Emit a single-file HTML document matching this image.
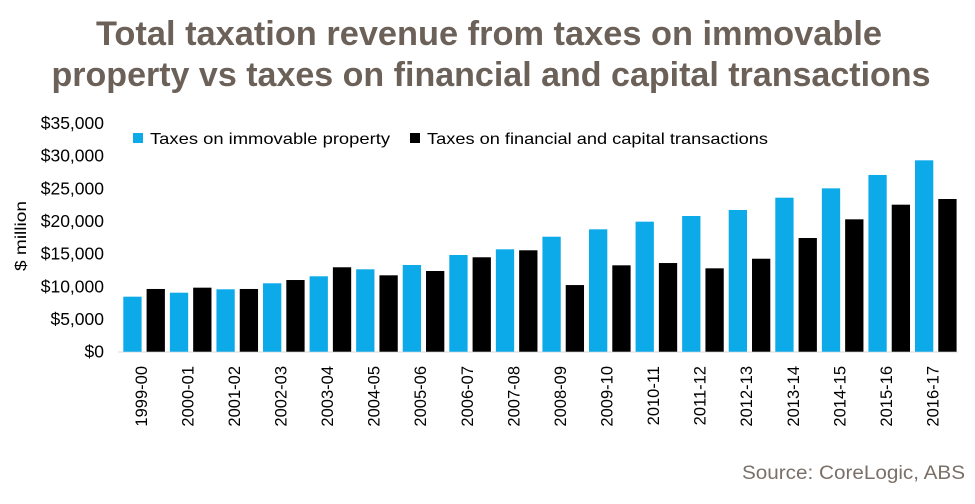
<!DOCTYPE html>
<html><head><meta charset="utf-8"><style>
body{margin:0;background:#fff;width:975px;height:499px;overflow:hidden;font-family:"Liberation Sans",sans-serif}
svg text{font-family:"Liberation Sans",sans-serif}
</style></head><body>
<svg id="chart" width="975" height="499" xmlns="http://www.w3.org/2000/svg">
<text x="489" y="45" text-anchor="middle" font-size="34" font-weight="bold" fill="#6b6159" textLength="786" lengthAdjust="spacingAndGlyphs">Total taxation revenue from taxes on immovable</text>
<text x="491" y="86" text-anchor="middle" font-size="34" font-weight="bold" fill="#6b6159" textLength="879" lengthAdjust="spacingAndGlyphs">property vs taxes on financial and capital transactions</text>
<text transform="translate(26,236) rotate(-90)" text-anchor="middle" font-size="16" fill="#000" textLength="70" lengthAdjust="spacingAndGlyphs">$ million</text>
<rect x="133" y="133" width="10" height="10" fill="#0daaea"/>
<text x="150" y="144" font-size="16" fill="#000" textLength="240" lengthAdjust="spacingAndGlyphs">Taxes on immovable property</text>
<rect x="410" y="133" width="10" height="10" fill="#000"/>
<text x="427" y="144" font-size="16" fill="#000" textLength="341" lengthAdjust="spacingAndGlyphs">Taxes on financial and capital transactions</text>
<line x1="118" y1="352" x2="958" y2="352" stroke="#d9d9d9" stroke-width="1"/>
<g id="yticks"></g><g id="bars"></g><g id="xlabels"></g>
<text x="965" y="479" text-anchor="end" font-size="19" fill="#7a7068" textLength="223" lengthAdjust="spacingAndGlyphs">Source: CoreLogic, ABS</text>
</svg>
<script>
const categories=["1999-00","2000-01","2001-02","2002-03","2003-04","2004-05","2005-06","2006-07","2007-08","2008-09","2009-10","2010-11","2011-12","2012-13","2013-14","2014-15","2015-16","2016-17"];
const propertyValues=[8420,9030,9550,10470,11540,12610,13270,14800,15670,17600,18730,19900,20770,21690,23570,25000,27050,29290];
const financialValues=[9600,9800,9600,10970,12920,11690,12350,14450,15520,10200,13220,13570,12760,14230,17400,20260,22500,23370];
const yTicks=[0,5000,10000,15000,20000,25000,30000,35000];
const yTickLabels=["$0","$5,000","$10,000","$15,000","$20,000","$25,000","$30,000","$35,000"];
const NS="http://www.w3.org/2000/svg";
const plotLeft=118,catW=46.57,y0=351.7,pxPer=32.67/5000;
const yScale=v=>y0-v*pxPer;
const xCat=i=>plotLeft+i*catW;
const gy=document.getElementById('yticks'),gb=document.getElementById('bars'),gx=document.getElementById('xlabels');
yTicks.forEach((t,i)=>{const e=document.createElementNS(NS,'text');
e.setAttribute('x',104);e.setAttribute('y',yScale(t)+6);e.setAttribute('text-anchor','end');e.setAttribute('font-size','17.5');e.setAttribute('fill','#000');


e.textContent=yTickLabels[i];gy.appendChild(e);});
const bw=18.3;
categories.forEach((c,i)=>{
const b=document.createElementNS(NS,'rect');
b.setAttribute('x',xCat(i)+5.3);b.setAttribute('y',yScale(propertyValues[i]));b.setAttribute('width',bw);b.setAttribute('height',y0-yScale(propertyValues[i]));b.setAttribute('fill','#0daaea');


gb.appendChild(b);
const k=document.createElementNS(NS,'rect');
k.setAttribute('x',xCat(i)+28.6);k.setAttribute('y',yScale(financialValues[i]));k.setAttribute('width',bw);k.setAttribute('height',y0-yScale(financialValues[i]));k.setAttribute('fill','#000');


gb.appendChild(k);
const t=document.createElementNS(NS,'text');
const cx=xCat(i)+catW/2+5.5;
t.setAttribute('transform','translate('+cx+',366) rotate(-90)');t.setAttribute('text-anchor','end');t.setAttribute('font-size','16.5');t.setAttribute('fill','#000');


t.textContent=c;gx.appendChild(t);});
</script>
</body></html>
